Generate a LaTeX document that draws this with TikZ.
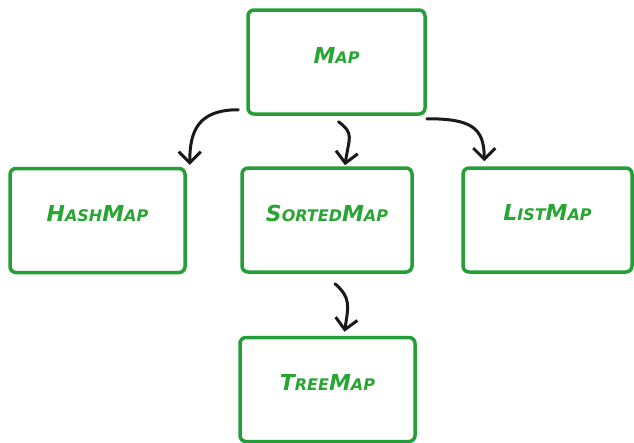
\documentclass[tikz,border=0pt]{standalone}
\usepackage{fontspec}
\setmainfont{DejaVu Sans}
\usetikzlibrary{arrows.meta,calc}
\definecolor{boxgreen}{RGB}{36,158,54}
\definecolor{txtgreen}{RGB}{40,165,50}
\newcommand\bigc{\fontsize{22}{22}\selectfont}
\newcommand\smc{\fontsize{16}{16}\selectfont}
\tikzset{
  box/.style={draw=boxgreen, line width=3.5pt, rounded corners=6pt, fill=white,
    minimum width=#1, minimum height=104pt, inner sep=0pt},
  lbl/.style={text=txtgreen, font=\bfseries\itshape, yshift=7pt},
  arr/.style={draw=black!90, line width=3pt, line cap=round,
    -{Straight Barb[length=11pt,width=22pt,line width=3pt]}},
}
\begin{document}
\begin{tikzpicture}[x=1pt,y=-1pt]
\useasboundingbox (0,0) rectangle (634,442);
\node[box=177pt, label={[lbl]center:{\bigc M}{\smc AP}}] (map) at (336.5,62) {};
\node[box=175pt, label={[lbl]center:{\bigc H}{\smc ASH}{\bigc M}{\smc AP}}] (hash) at (97.5,220.5) {};
\node[box=170pt, label={[lbl]center:{\bigc S}{\smc ORTED}{\bigc M}{\smc AP}}] (sorted) at (327,220) {};
\node[box=169pt, label={[lbl]center:{\bigc L}{\smc IST}{\bigc M}{\smc AP}}] (list) at (547.5,220) {};
\node[box=175pt, label={[lbl]center:{\bigc T}{\smc REE}{\bigc M}{\smc AP}}] (tree) at (327.5,389.5) {};

\coordinate (a1s) at ([xshift=-8pt,yshift=6pt]map.south west);
\coordinate (a1e) at ([xshift=3pt,yshift=2pt]hash.north east);
\draw[arr] (a1s) .. controls ($(a1s)+(-40,0)$) and ($(a1e)+(0,-34)$) .. (a1e);

\coordinate (a2s) at ([xshift=2pt,yshift=-6pt]map.south);
\coordinate (a2e) at ([xshift=18pt,yshift=1pt]sorted.north);
\draw[arr] (a2s) .. controls ($(a2s)+(16,12)$) and ($(a2e)+(4,-28)$) .. (a2e);

\coordinate (a3s) at ([xshift=0pt,yshift=-3pt]map.south east);
\coordinate (a3e) at ([xshift=23pt,yshift=5pt]list.north west);
\draw[arr] (a3s) .. controls ($(a3s)+(44,0)$) and ($(a3e)+(0,-34)$) .. (a3e);

\coordinate (a4s) at ([xshift=8pt,yshift=-10pt]sorted.south);
\coordinate (a4e) at ([xshift=17pt,yshift=4pt]tree.north);
\draw[arr] (a4s) .. controls ($(a4s)+(16,14)$) and ($(a4e)+(4,-26)$) .. (a4e);
\end{tikzpicture}
\end{document}
